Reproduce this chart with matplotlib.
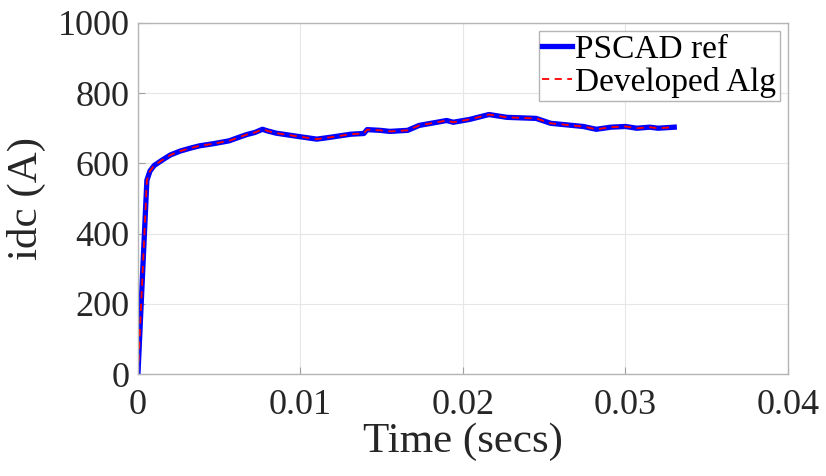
import matplotlib
matplotlib.use("Agg")
import matplotlib.pyplot as plt

# digitised idc waveform (s, A)
time_s = [0.0, 0.00055, 0.00074, 0.001, 0.00155, 0.002, 0.0026, 0.0032, 0.0038,
          0.00465, 0.0056, 0.0062, 0.0067, 0.0072, 0.00766, 0.0080, 0.0085, 0.0098,
          0.011, 0.0118, 0.0131, 0.0139, 0.0141, 0.0149, 0.0155, 0.0166, 0.0173,
          0.0184, 0.019, 0.0194, 0.0204, 0.0216, 0.0227, 0.0245, 0.0254, 0.0274,
          0.0282, 0.0291, 0.030, 0.0307, 0.0315, 0.032, 0.033]
pscad_ref = [0, 552, 578, 594, 611, 624, 635, 643, 650,
             656, 664, 674, 682, 688, 697, 692, 686, 677,
             669, 674, 683, 685, 696, 694, 691, 694, 708,
             717, 722, 717, 725, 739, 731, 728, 714, 705,
             697, 703, 705, 700, 703, 700, 703]
developed_alg = list(pscad_ref)

plt.rcParams["font.family"] = ["Liberation Serif", "DejaVu Serif"]

fig = plt.figure(figsize=(8.26, 4.76), dpi=100)
ax = fig.add_axes([0.167, 0.214, 0.787, 0.738])

ax.plot(time_s, pscad_ref, color="blue", linewidth=3.8, label="PSCAD ref")
ax.plot(time_s, developed_alg, color="red", linewidth=1.3, linestyle=(0, (4, 3)),
        label="Developed Alg")

ax.set_xlim(0, 0.04)
ax.set_ylim(0, 1000)
ax.set_xticks([0, 0.01, 0.02, 0.03, 0.04])
ax.set_xticklabels(["0", "0.01", "0.02", "0.03", "0.04"])
ax.set_yticks([0, 200, 400, 600, 800, 1000])
ax.grid(True, color="#e6e6e6", linewidth=0.8)
ax.set_axisbelow(True)
for s in ax.spines.values():
    s.set_color("#b5b5b5")
    s.set_linewidth(1.0)
ax.tick_params(direction="in", length=5, color="#a0a0a0", labelsize=26,
               labelcolor="#262626", pad=6)
ax.tick_params(axis="x", pad=11)

ax.set_xlabel("Time (secs)", fontsize=31, color="#262626", labelpad=0)
ax.set_ylabel("idc (A)", fontsize=31, color="#262626", labelpad=8)

leg = ax.legend(loc="upper right", fontsize=24, handlelength=0.9, handletextpad=0.1,
                labelspacing=0.05, borderpad=0.1, borderaxespad=0.25, fancybox=False,
                framealpha=1)
leg.get_frame().set_edgecolor("#b5b5b5")
leg.get_frame().set_linewidth(1.0)

fig.savefig("out.png", dpi=100)
